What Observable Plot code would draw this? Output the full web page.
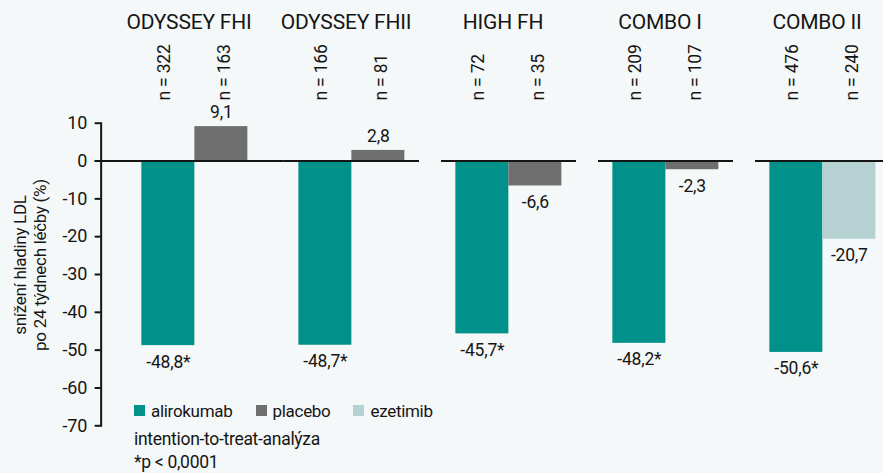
<!DOCTYPE html>
<html>
<head>
<meta charset="utf-8">
<script src="https://cdn.jsdelivr.net/npm/d3@7"></script>
<script src="https://cdn.jsdelivr.net/npm/@observablehq/plot@0.6"></script>
<style>
  html, body { margin: 0; padding: 0; background: #f5f8f8; overflow: hidden; }
  #wrap { position: relative; width: 883px; height: 473px; overflow: hidden; }
  .txt { font-family: Roboto, "Noto Sans", sans-serif; color: #151515; font-size: 17px; letter-spacing: -0.3px; }
  #legend { position: absolute; left: 134px; top: 399.5px; height: 22px; display: flex; align-items: center; }
  #legend .item { display: flex; align-items: center; margin-right: 23px; }
  #legend .sw { width: 11px; height: 11px; margin-right: 6px; }
  #note { position: absolute; left: 134px; top: 427.5px; line-height: 23px; font-size: 17.5px; }
  #ylabel { position: absolute; left: 30px; top: 265px; transform: translate(-50%, -50%) rotate(-90deg); white-space: nowrap; text-align: center; font-size: 17px; line-height: 20px; }
</style>
</head>
<body>
<div id="wrap">
  <div id="ylabel" class="txt"></div>
  <div id="legend" class="txt"></div>
  <div id="note" class="txt"></div>
</div>
<script>
const groups = ["ODYSSEY FHI", "ODYSSEY FHII", "HIGH FH", "COMBO I", "COMBO II"];
const aliroValues = [-48.8, -48.7, -45.7, -48.2, -50.6];
const aliroN = [322, 166, 72, 209, 476];
const aliroSignificant = [true, true, true, true, true];
const controlValues = [9.1, 2.8, -6.6, -2.3, -20.7];
const controlN = [163, 81, 35, 107, 240];
const controlArms = ["placebo", "placebo", "placebo", "placebo", "ezetimib"];
const treatments = ["alirokumab", "placebo", "ezetimib"];
const treatmentColors = ["#00928a", "#6f6f6f", "#b6d1d1"];
const yTicks = [10, 0, -10, -20, -30, -40, -50, -60, -70];
const yLabelLines = ["snížení hladiny LDL", "po 24 týdnech léčby (%)"];
const notes = ["intention-to-treat-analýza", "*p < 0,0001"];

const rows = groups.flatMap((g, i) => [
  {group: g, slot: "A", treatment: "alirokumab", value: aliroValues[i], n: aliroN[i], star: aliroSignificant[i]},
  {group: g, slot: "B", treatment: controlArms[i], value: controlValues[i], n: controlN[i], star: false}
]);
const fmt = d => d.value.toFixed(1).replace(".", ",") + (d.star ? "*" : "");
const nText = d => "n = " + d.n;

const FONT = 'Roboto, "Noto Sans", sans-serif';
const AXIS_DX = -26.35;
const ink = "#151515";

const chart = Plot.plot({
  width: 900,
  height: 473,
  marginLeft: 125.65,
  marginRight: 8.35,
  marginTop: 122.7,
  marginBottom: 47.7,
  style: `background: transparent; max-width: none; font-family: ${FONT}; color: ${ink}; overflow: visible; letter-spacing: -0.2px;`,
  fx: {domain: groups, paddingInner: 0.14, paddingOuter: 0, axis: null, label: null},
  x: {domain: ["A", "B"], paddingInner: 0, paddingOuter: 0.2546, axis: null, label: null},
  y: {domain: [-70, 10], axis: null},
  color: {domain: treatments, range: treatmentColors},
  marks: [
    Plot.barY(rows, {fx: "group", x: "slot", y: "value", fill: "treatment"}),
    Plot.ruleY([groups[0]], {fx: d => d, y: () => 0, stroke: ink, strokeWidth: 2, insetLeft: -32.35, insetRight: -21.85}),
    Plot.ruleY(groups.slice(1), {fx: d => d, y: () => 0, stroke: ink, strokeWidth: 2}),
    Plot.frame({anchor: "left", stroke: ink, strokeWidth: 2, dx: AXIS_DX, facetAnchor: "left"}),
    Plot.axisY({ticks: yTicks, tickFormat: d => String(d), tickSize: 6, tickPadding: 8, strokeWidth: 2, stroke: ink, fill: ink, fontSize: 18, dx: AXIS_DX, label: null}),
    Plot.text(groups, {fx: d => d, text: d => d, frameAnchor: "top", dy: -109, dx: -6, fontSize: 21, fill: ink, style: "letter-spacing: -1px"}),
    Plot.text(rows, {filter: d => d.slot === "A", fx: "group", x: "slot", text: nText, frameAnchor: "top", rotate: -90, textAnchor: "start", dy: -22.7, dx: -11, fontSize: 17.5, fill: ink}),
    Plot.text(rows, {filter: d => d.slot === "B", fx: "group", x: "slot", text: nText, frameAnchor: "top", rotate: -90, textAnchor: "start", dy: -22.7, dx: -4, fontSize: 17.5, fill: ink}),
    Plot.text(rows, {filter: d => d.value >= 0, fx: "group", x: "slot", y: "value", text: fmt, lineAnchor: "bottom", dy: -8.5, fontSize: 17.5, fill: ink}),
    Plot.text(rows, {filter: d => d.value < 0, fx: "group", x: "slot", y: "value", text: fmt, lineAnchor: "top", dy: 9.5, fontSize: 17.5, fill: ink})
  ]
});

const wrap = document.getElementById("wrap");
wrap.insertBefore(chart, wrap.firstChild);

const ylabel = document.getElementById("ylabel");
yLabelLines.forEach(t => {
  const div = document.createElement("div");
  div.textContent = t;
  ylabel.appendChild(div);
});

const color = chart.scale("color");
const legend = document.getElementById("legend");
color.domain.forEach((t, i) => {
  const item = document.createElement("div");
  item.className = "item";
  const sw = document.createElement("div");
  sw.className = "sw";
  sw.style.background = color.range[i];
  const lab = document.createElement("span");
  lab.textContent = t;
  item.appendChild(sw);
  item.appendChild(lab);
  legend.appendChild(item);
});
const note = document.getElementById("note");
notes.forEach(n => {
  const div = document.createElement("div");
  div.textContent = n;
  note.appendChild(div);
});
</script>
</body>
</html>
